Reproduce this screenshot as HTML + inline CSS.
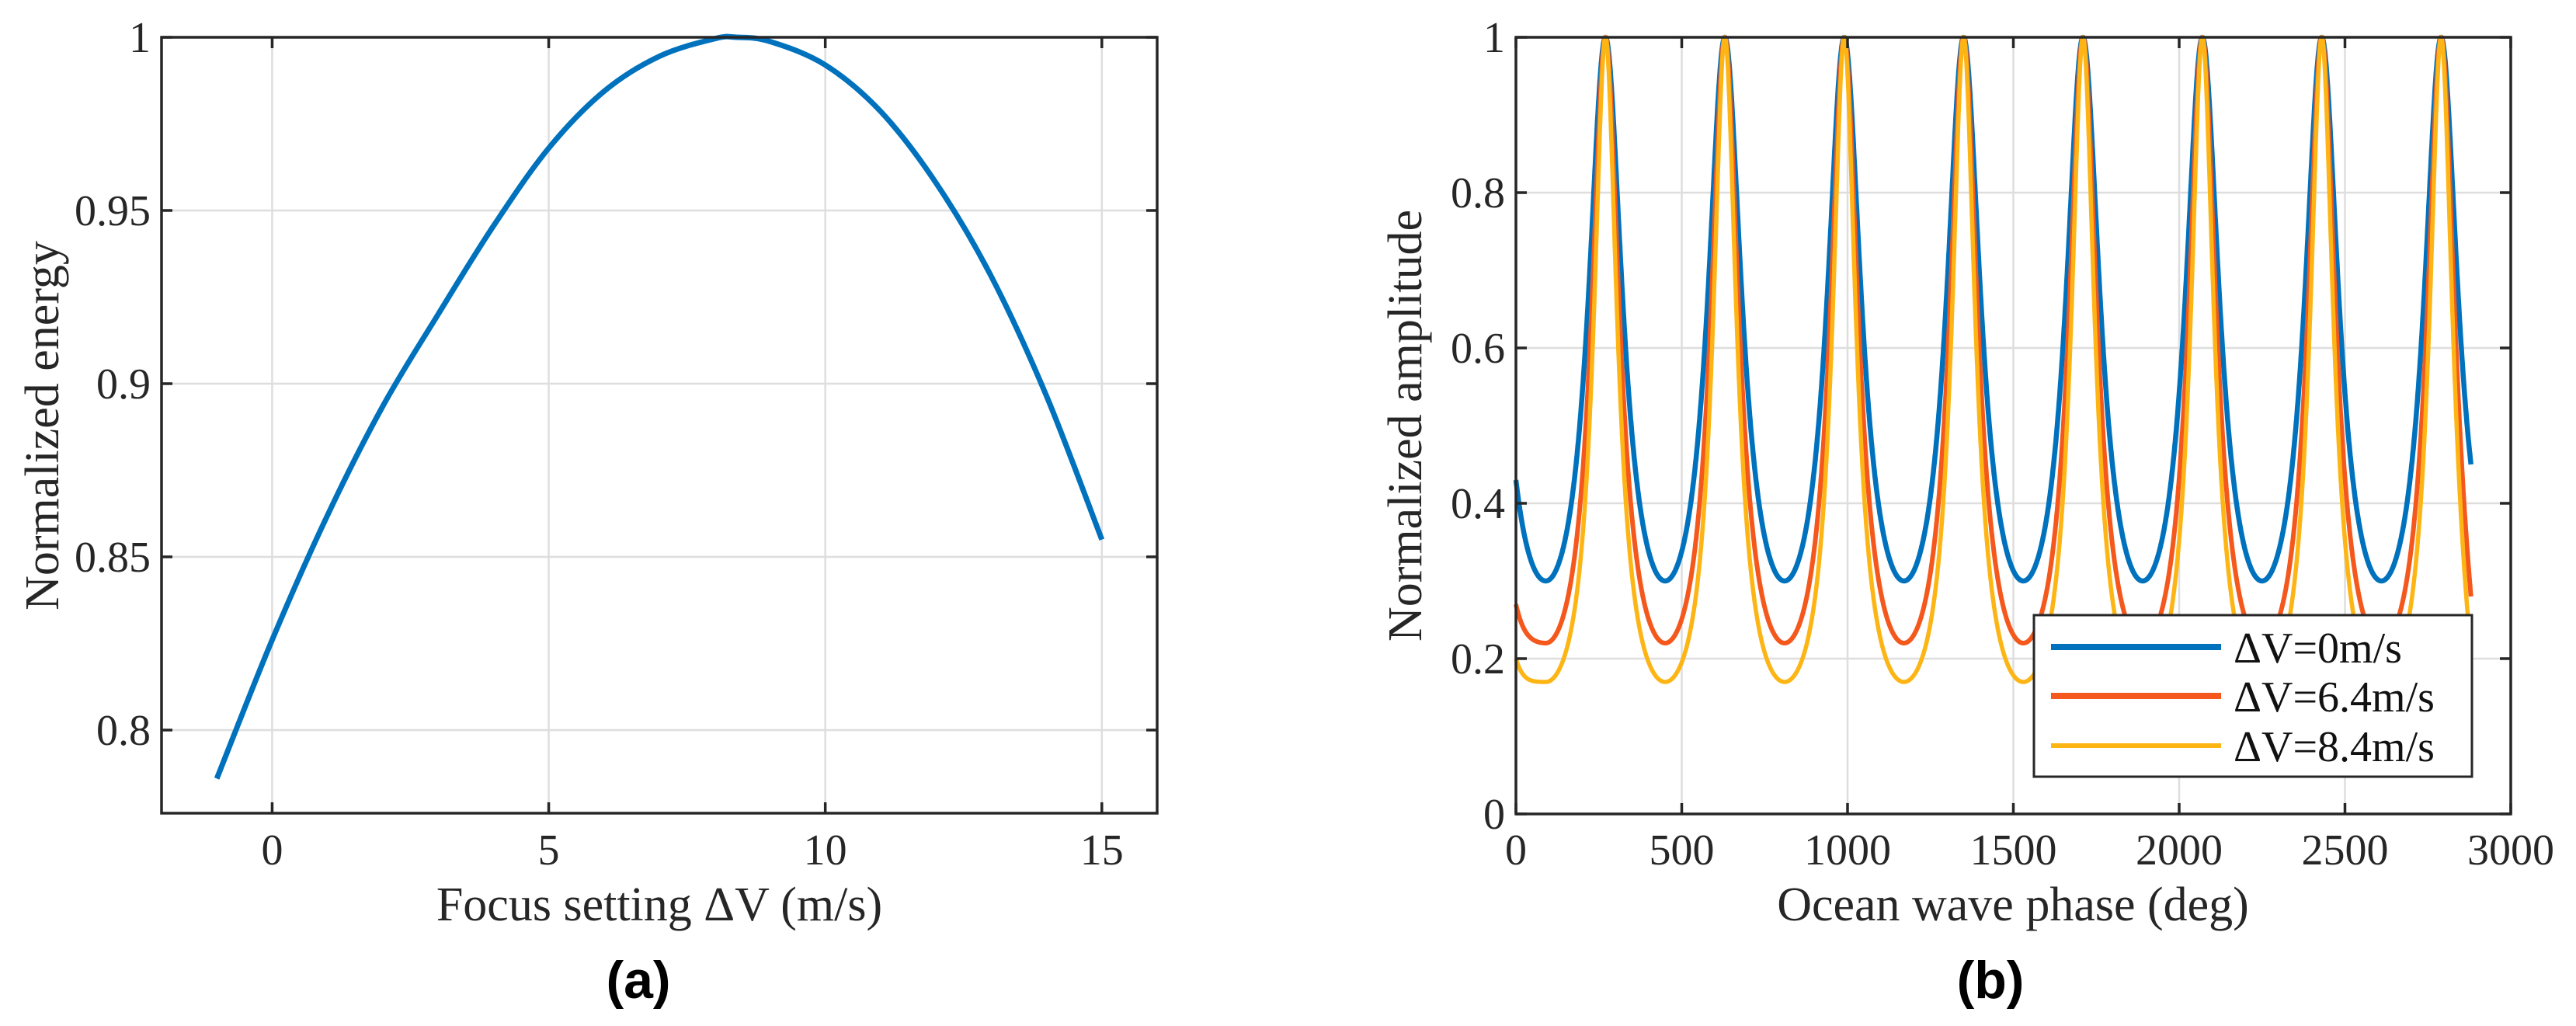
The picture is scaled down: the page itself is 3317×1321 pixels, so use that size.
<!DOCTYPE html>
<html><head><meta charset="utf-8"><style>
html,body{margin:0;padding:0;background:#fff;}
svg{display:block;font-family:"Liberation Serif","DejaVu Serif",serif;}
</style></head>
<body>
<svg id="fig" width="3317" height="1321" viewBox="0 0 3317 1321" xmlns="http://www.w3.org/2000/svg"></svg>
<script>
// ---- Panel (a) data ----
const aFocus = [-1,0,1,2,3,4,5,6,7,8,8.4,9,10,11,12,13,14,15];
const aEnergy = [0.786,0.826,0.862,0.8935,0.920,0.9455,0.968,0.9844,0.9945,0.9996,1.0,0.9988,0.992,0.9786,0.958,0.931,0.8964,0.855];
const aXTicks = [0,5,10,15];
const aYTicks = [0.8,0.85,0.9,0.95,1];
const aYTickLabels = ["0.8","0.85","0.9","0.95","1"];
// ---- Panel (b) data ----
const bPeakPhases = [270,630,990,1350,1710,2070,2430,2790];
const bPeakValue = 1.0;
const bSeriesNames = ["ΔV=0m/s","ΔV=6.4m/s","ΔV=8.4m/s"];
const bTroughBlue = [0.30,0.30,0.30,0.30,0.30,0.30,0.30,0.30,0.30];
const bTroughOrange = [0.22,0.22,0.22,0.22,0.22,0.22,0.22,0.22,0.22];
const bTroughYellow = [0.17,0.17,0.17,0.17,0.17,0.17,0.17,0.17,0.17];
const bStartValues = [0.43,0.27,0.20];
const bEndValues = [0.45,0.28,0.21];
const bPhaseRange = [0,2880];
const bXTicks = [0,500,1000,1500,2000,2500,3000];
const bYTicks = [0,0.2,0.4,0.6,0.8,1];
const bYTickLabels = ["0","0.2","0.4","0.6","0.8","1"];

const NS="http://www.w3.org/2000/svg";
const svg=document.getElementById('fig');
function mk(tag,attrs,parent){const e=document.createElementNS(NS,tag);for(const k in attrs)e.setAttribute(k,attrs[k]);(parent||svg).appendChild(e);return e;}

function axes(cfg){
  const g=mk('g',{});
  
  
  const sx=v=>cfg.x0+(v-cfg.xmin)/(cfg.xmax-cfg.xmin)*(cfg.x1-cfg.x0);
  const sy=v=>cfg.y1-(v-cfg.ymin)/(cfg.ymax-cfg.ymin)*(cfg.y1-cfg.y0);
  cfg.xt.forEach(t=>{const l=mk('line',{x1:sx(t),x2:sx(t),y1:cfg.y0,y2:cfg.y1,stroke:'#dedede','stroke-width':2.5},g);
    });
  cfg.yt.forEach(t=>{const l=mk('line',{x1:cfg.x0,x2:cfg.x1,y1:sy(t),y2:sy(t),stroke:'#dedede','stroke-width':2.5},g);
    });
  return {g,sx,sy};
}
function frame(cfg,ax){
  const g=ax.g;const sx=ax.sx,sy=ax.sy;
  const box=mk('rect',{x:cfg.x0,y:cfg.y0,width:cfg.x1-cfg.x0,height:cfg.y1-cfg.y0,fill:'none',stroke:'#262626','stroke-width':3.5},g);
  
  const tl=14;
  cfg.xt.forEach((t,i)=>{
    mk('line',{x1:sx(t),x2:sx(t),y1:cfg.y1,y2:cfg.y1-tl,stroke:'#262626','stroke-width':3.5},g);
    mk('line',{x1:sx(t),x2:sx(t),y1:cfg.y0,y2:cfg.y0+tl,stroke:'#262626','stroke-width':3.5},g);
    const tx=mk('text',{x:sx(t),y:1113,'font-size':56,'text-anchor':'middle',fill:'#262626'},g);
    tx.textContent=cfg.xl[i];
    
  });
  cfg.yt.forEach((t,i)=>{
    mk('line',{x1:cfg.x0,x2:cfg.x0+tl,y1:sy(t),y2:sy(t),stroke:'#262626','stroke-width':3.5},g);
    mk('line',{x1:cfg.x1,x2:cfg.x1-tl,y1:sy(t),y2:sy(t),stroke:'#262626','stroke-width':3.5},g);
    const tx=mk('text',{x:cfg.x0-14,y:sy(t)+19,'font-size':56,'text-anchor':'end',fill:'#262626'},g);
    tx.textContent=cfg.yl[i];
    
  });
}
// smooth path through points (Catmull-Rom -> cubic Bezier)
function smoothPath(pts){
  let d='M'+pts[0][0].toFixed(1)+' '+pts[0][1].toFixed(1);
  for(let i=0;i<pts.length-1;i++){
    const p0=pts[Math.max(i-1,0)],p1=pts[i],p2=pts[i+1],p3=pts[Math.min(i+2,pts.length-1)];
    const c1=[p1[0]+(p2[0]-p0[0])/6,p1[1]+(p2[1]-p0[1])/6];
    const c2=[p2[0]-(p3[0]-p1[0])/6,p2[1]-(p3[1]-p1[1])/6];
    d+=' C'+c1[0].toFixed(1)+' '+c1[1].toFixed(1)+' '+c2[0].toFixed(1)+' '+c2[1].toFixed(1)+' '+p2[0].toFixed(1)+' '+p2[1].toFixed(1);
  }
  return d;
}
// ---------- Panel (a) ----------
const ca={name:'chart-a',x0:208,x1:1490,y0:48,y1:1047,xmin:-2,xmax:16,ymin:0.776,ymax:1,xt:aXTicks,xl:aXTicks.map(String),yt:aYTicks,yl:aYTickLabels};
const A=axes(ca);
const aPts=aFocus.map((v,i)=>[A.sx(v),A.sy(aEnergy[i])]);
const pa=mk('path',{d:smoothPath(aPts),fill:'none',stroke:'#0072BD','stroke-width':7,'stroke-linejoin':'round'},A.g);


frame(ca,A);
// ---------- Panel (b) ----------
const cb={name:'chart-b',x0:1952,x1:3233,y0:48,y1:1048,xmin:0,xmax:3000,ymin:0,ymax:1,xt:bXTicks,xl:bXTicks.map(String),yt:bYTicks,yl:bYTickLabels};
const B=axes(cb);
const period=bPeakPhases[1]-bPeakPhases[0];
function modelVal(ph,troughs){
  const p=0.8;
  let j=0;let best=1e9;
  bPeakPhases.forEach((pk,k)=>{if(Math.abs(ph-pk)<best){best=Math.abs(ph-pk);j=k;}});
  const pk=bPeakPhases[j];
  const side=ph<pk? j : j+1;
  const t=troughs[Math.min(side,troughs.length-1)];
  const u=(ph-pk)/period*2*Math.PI;
  const k=(Math.pow(t,-1/p)-1)/2;
  return bPeakValue*Math.pow(1+k*(1-Math.cos(u)),-p);
}
function seriesPath(troughs,si){
  let d='';
  const firstTrough=bPeakPhases[0]-period/2;
  const lastTrough=bPeakPhases[bPeakPhases.length-1]+period/2;
  const m0=modelVal(bPhaseRange[0],troughs), m1=modelVal(bPhaseRange[1],troughs);
  for(let ph=bPhaseRange[0];ph<=bPhaseRange[1];ph+=1){
    let v=modelVal(ph,troughs);
    if(ph<firstTrough){
      const w=Math.pow((firstTrough-ph)/(firstTrough-bPhaseRange[0]),2);
      v+=w*(bStartValues[si]-m0);
    } else if(ph>bPeakPhases[bPeakPhases.length-1] && ph>lastTrough-2*period/2 && bPhaseRange[1]<lastTrough){
      const tStart=bPeakPhases[bPeakPhases.length-1];
      if(ph>tStart){
        const w=Math.pow((ph-tStart)/(bPhaseRange[1]-tStart),2);
        v+=w*(bEndValues[si]-m1);
      }
    }
    d+=(d?'L':'M')+B.sx(ph).toFixed(1)+' '+B.sy(v).toFixed(1)+' ';
  }
  return d;
}
const colors=['#0072BD','#F4581C','#FDB515'];
const widths=[6.5,6,5.5];
[bTroughBlue,bTroughOrange,bTroughYellow].forEach((tr,i)=>{
  const p=mk('path',{d:seriesPath(tr,i),fill:'none',stroke:colors[i],'stroke-width':widths[i],'stroke-linejoin':'round'},B.g);
  
  
});
frame(cb,B);
// legend
const lg=mk('g',{});


mk('rect',{x:2619,y:792,width:564,height:208,fill:'#fff',stroke:'#262626','stroke-width':3},lg);
const ly=[833,896,960];
bSeriesNames.forEach((n,i)=>{
  const e=mk('g',{},lg);
  
  
  mk('line',{x1:2641,x2:2860,y1:ly[i],y2:ly[i],stroke:colors[i],'stroke-width':[8,8,6][i]},e);
  const t=mk('text',{x:2876,y:ly[i]+20,'font-size':56,fill:'#111'},e);
  t.textContent=n;
});
function label(txt,x,y,rot,size,name,bold){
  const t=mk('text',{x:x,y:y,'font-size':size,'text-anchor':'middle',fill:'#262626'});
  if(rot)t.setAttribute('transform','rotate(-90 '+x+' '+y+')');
  if(bold){t.setAttribute('font-weight','bold');t.setAttribute('font-family','"Liberation Sans","DejaVu Sans",sans-serif');t.setAttribute('fill','#000');}
  t.textContent=txt;
  
  
}
label('Focus setting ΔV (m/s)',849,1185,false,62,'x-axis-title-a');
label('Normalized energy',75,548,true,62,'y-axis-title-a');
label('Ocean wave phase (deg)',2592,1185,false,62,'x-axis-title-b');
label('Normalized amplitude',1830,548,true,62,'y-axis-title-b');
label('(a)',822,1285,false,68,'panel-label-a',true);
label('(b)',2563,1285,false,68,'panel-label-b',true);
</script>
</body></html>
